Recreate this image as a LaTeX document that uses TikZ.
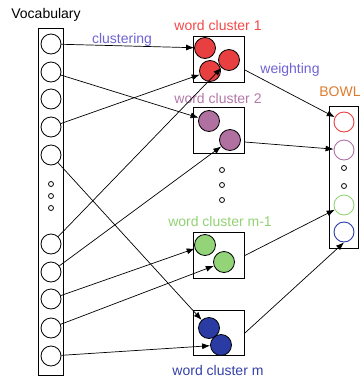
\documentclass[tikz,border=0pt]{standalone}
\usepackage{fontspec}
\setmainfont{Liberation Sans}
\usetikzlibrary{arrows.meta}
\definecolor{cred}{HTML}{E84040}
\definecolor{cpur}{HTML}{B070A0}
\definecolor{cgrn}{HTML}{94D478}
\definecolor{cblu}{HTML}{2A3CA4}
\definecolor{tred}{HTML}{F24848}
\definecolor{tpur}{HTML}{B478A8}
\definecolor{tgrn}{HTML}{92D274}
\definecolor{tblu}{HTML}{3440A8}
\definecolor{tsl}{HTML}{6E62D4}
\definecolor{torg}{HTML}{E07A2C}
\tikzset{
  vcirc/.style={circle,draw,line width=0.8pt,fill=white,minimum size=20pt,inner sep=0pt},
  ccirc/.style={circle,draw,line width=0.8pt,minimum size=21pt,inner sep=0pt},
  bcirc/.style={circle,draw,line width=0.9pt,minimum size=20pt,inner sep=0pt},
  sdot/.style={circle,draw,line width=0.8pt,minimum size=5pt,inner sep=0pt},
  cbox/.style={draw,line width=0.8pt,inner sep=0pt},
  lab/.style={font=\fontsize{14}{16}\selectfont,inner sep=0pt},
  arr/.style={line width=0.7pt,-{Latex[length=8pt,width=6pt]}},
  ln/.style={line width=0.7pt}
}
\begin{document}
\begin{tikzpicture}[x=1pt,y=-1pt]
\useasboundingbox (0,0) rectangle (364,378);
% vocabulary column
\node[cbox,minimum width=25pt,minimum height=347pt] (vbox) at (50.5,201.5) {};
\foreach \n/\y in {1/44,2/72,3/99,4/127,5/155,6/244,7/272,8/299,9/328,10/356}
  \node[vcirc] (v\n) at (51,\y) {};
\foreach \n/\y in {1/184,2/196,3/208}
  \node[sdot] (vd\n) at (51,\y) {};
\node[lab] (tvoc) at (46,15) {Vocabulary};
% cluster boxes
\node[cbox,minimum width=51pt,minimum height=46pt] (c1) at (219,59) {};
\node[cbox,minimum width=51pt,minimum height=46pt] (c2) at (219,130) {};
\node[cbox,minimum width=51pt,minimum height=46pt] (c3) at (219,255.5) {};
\node[cbox,minimum width=51pt,minimum height=45pt] (c4) at (219,333) {};
% cluster circles
\node[ccirc,fill=cred] (r1) at (205,48) {};
\node[ccirc,fill=cred] (r2) at (229,60) {};
\node[ccirc,fill=cred] (r3) at (210,71) {};
\node[ccirc,fill=cpur] (p1) at (209,121) {};
\node[ccirc,fill=cpur] (p2) at (230,140) {};
\node[ccirc,fill=cgrn] (g1) at (205,245) {};
\node[ccirc,fill=cgrn] (g2) at (224,262) {};
\node[ccirc,fill=cblu] (u1) at (209,328) {};
\node[ccirc,fill=cblu] (u2) at (221,345) {};
\foreach \n/\y in {1/170,2/185,3/200}
  \node[sdot] (cd\n) at (222,\y) {};
% labels
\node[lab,text=tred] (t1) at (218,25) {word cluster 1};
\node[lab,text=tpur] (t2) at (218,98) {word cluster 2};
\node[lab,text=tgrn] (t3) at (220,221) {word cluster m-1};
\node[lab,text=tblu] (t4) at (218,370) {word cluster m};
\node[lab,text=tsl] (tcl) at (122,40) {clustering};
\node[lab,text=tsl] (twt) at (290,70) {weighting};
\node[lab,text=torg] (tbw) at (340,92) {BOWL};
% BOWL column
\node[cbox,minimum width=29pt,minimum height=142pt] (bbox) at (344,177) {};
\node[bcirc,draw=cred] (b1) at (344,122) {};
\node[bcirc,draw=cpur] (b2) at (344,150) {};
\node[sdot] (bd1) at (344,168) {};
\node[sdot] (bd2) at (344,186) {};
\node[bcirc,draw=cgrn] (b3) at (344,205) {};
\node[bcirc,draw=cblu] (b4) at (344,232) {};
% clustering arrows
\draw[arr] (v1) -- (r1);
\draw[arr] (v2) -- (p1);
\draw[arr] (v4) -- (r3);
\draw[arr] (v5) -- (u1);
\draw[arr] (v6) -- (r2);
\draw[arr] (v7) -- (p2);
\draw[arr] (v8) -- (g1);
\draw[arr] (v9) -- (g2);
\draw[arr] (v10) -- (u2);
% weighting arrows
\draw[arr] ([yshift=-11pt]c1.east) -- (b1);
\draw[arr] ([yshift=-12pt]c2.east) -- (b2);
\draw[arr] (c3.east) -- (b3);
\draw[arr] (c4.east) -- (b4.south);
\end{tikzpicture}
\end{document}
